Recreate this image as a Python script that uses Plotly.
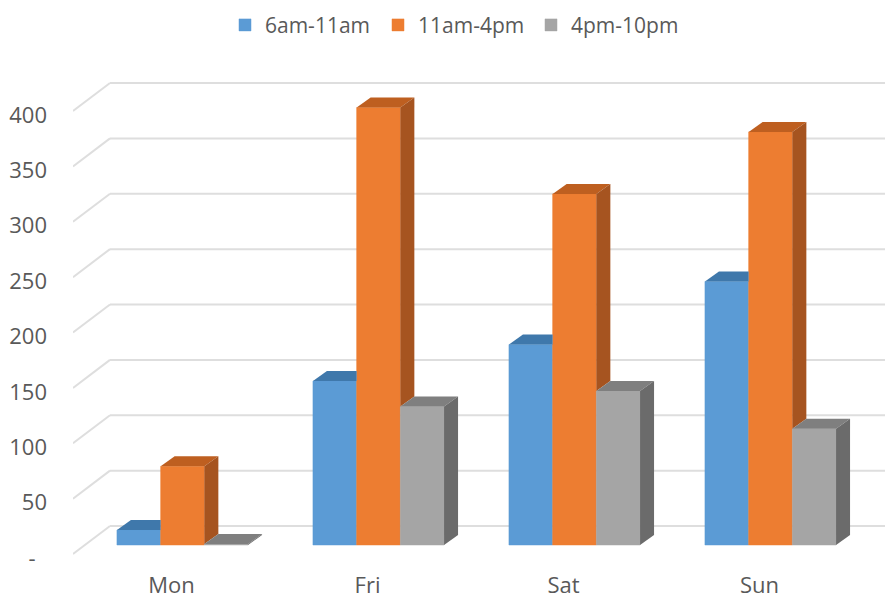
import plotly.graph_objects as go

days = ["Mon", "Fri", "Sat", "Sun"]
morning = [13.5, 148, 181, 238]
midday = [71, 395, 317, 373]
evening = [1, 125, 139, 105]
series_names = ["6am-11am", "11am-4pm", "4pm-10pm"]
tick_values = [0, 50, 100, 150, 200, 250, 300, 350, 400]
tick_labels = ["-\u00a0\u00a0", "50", "100", "150", "200", "250", "300", "350", "400"]

W, H = 885, 594
ML, MT, MB = 73, 40, 28
PX_PER_VAL = 1.1075
PX_PER_CAT = 196.0
BASE_PX = 545.0
CENTER0_PX = 182.5

fill = ["#5B9BD5", "#ED7D31", "#A5A5A5"]
top_c = ["#3F78AB", "#BE5F20", "#7F7F7F"]
side_c = ["#386A96", "#A65420", "#6B6B6B"]
BAR_PX = 43.7
barw = BAR_PX / PX_PER_CAT
dx = 14 / PX_PER_CAT
dy = 10 / PX_PER_VAL
series = [morning, midday, evening]
xs = list(range(len(days)))

fig = go.Figure()

# back wall grid and floor diagonals, below the bars
wall_x0 = (110 - CENTER0_PX) / PX_PER_CAT
front_x = (73 - CENTER0_PX) / PX_PER_CAT
end_x = (W - CENTER0_PX) / PX_PER_CAT
front_dv = -9 / PX_PER_VAL
wall_dv = 19 / PX_PER_VAL
for v in tick_values:
    fig.add_shape(type="line", x0=front_x, y0=v + front_dv, x1=wall_x0, y1=v + wall_dv,
                  line=dict(color="#DEDEDE", width=2), layer="below")
    fig.add_shape(type="line", x0=wall_x0, y0=v + wall_dv, x1=end_x, y1=v + wall_dv,
                  line=dict(color="#DEDEDE", width=2), layer="below")

for s, vals in enumerate(series):
    fig.add_trace(go.Bar(x=xs, y=vals, name=series_names[s],
                         marker=dict(color=fill[s], line=dict(width=0.5, color=fill[s]))))

# extruded faces, computed from the values
for s, vals in enumerate(series):
    off = (s - 1) * barw
    for i, v in enumerate(vals):
        xl = xs[i] + off - barw / 2
        xr = xs[i] + off + barw / 2
        nxt = series[s + 1][i] if s < 2 else 0
        hidden = nxt >= v + dy
        tx = [xl, xl + dx, xr if hidden else xr + dx, xr, xl]
        fig.add_trace(go.Scatter(
            x=tx, y=[v, v + dy, v + dy, v, v],
            mode="lines", fill="toself", fillcolor=top_c[s], line_width=0,
            showlegend=False, hoverinfo="skip"))
        if not hidden:
            lo = min(nxt, v)
            fig.add_trace(go.Scatter(
                x=[xr, xr + dx, xr + dx, xr, xr], y=[lo, lo + dy, v + dy, v, lo],
                mode="lines", fill="toself", fillcolor=side_c[s], line_width=0,
                showlegend=False, hoverinfo="skip"))

fig.update_layout(
    width=W, height=H,
    margin=dict(l=ML, r=0, t=MT, b=MB, autoexpand=False),
    paper_bgcolor="white", plot_bgcolor="white",
    barmode="group", bargap=1 - 3 * barw, bargroupgap=0,
    font=dict(family="Open Sans, Noto Sans, sans-serif", size=22, color="#595959"),
    legend=dict(orientation="h", xref="container", x=225 / W, xanchor="left",
                y=0.992, yanchor="top", yref="container", font=dict(size=21),
                traceorder="normal", entrywidth=108, entrywidthmode="pixels"),
    xaxis=dict(range=[(ML - CENTER0_PX) / PX_PER_CAT, (W - CENTER0_PX) / PX_PER_CAT],
               tickvals=xs, ticktext=days, showgrid=False, zeroline=False, showline=False,
               ticks="", ticklabelshift=-11, ticklabelstandoff=4),
    yaxis=dict(range=[(BASE_PX - (H - MB)) / PX_PER_VAL, (BASE_PX - MT) / PX_PER_VAL],
               tickvals=tick_values, ticktext=tick_labels, showgrid=False, zeroline=False,
               showline=False, ticks="", ticklabelshift=13, ticklabelstandoff=25),
)
fig.write_html("out.html", config=dict(displayModeBar=False),
               post_script="document.body.style.margin='0';")
